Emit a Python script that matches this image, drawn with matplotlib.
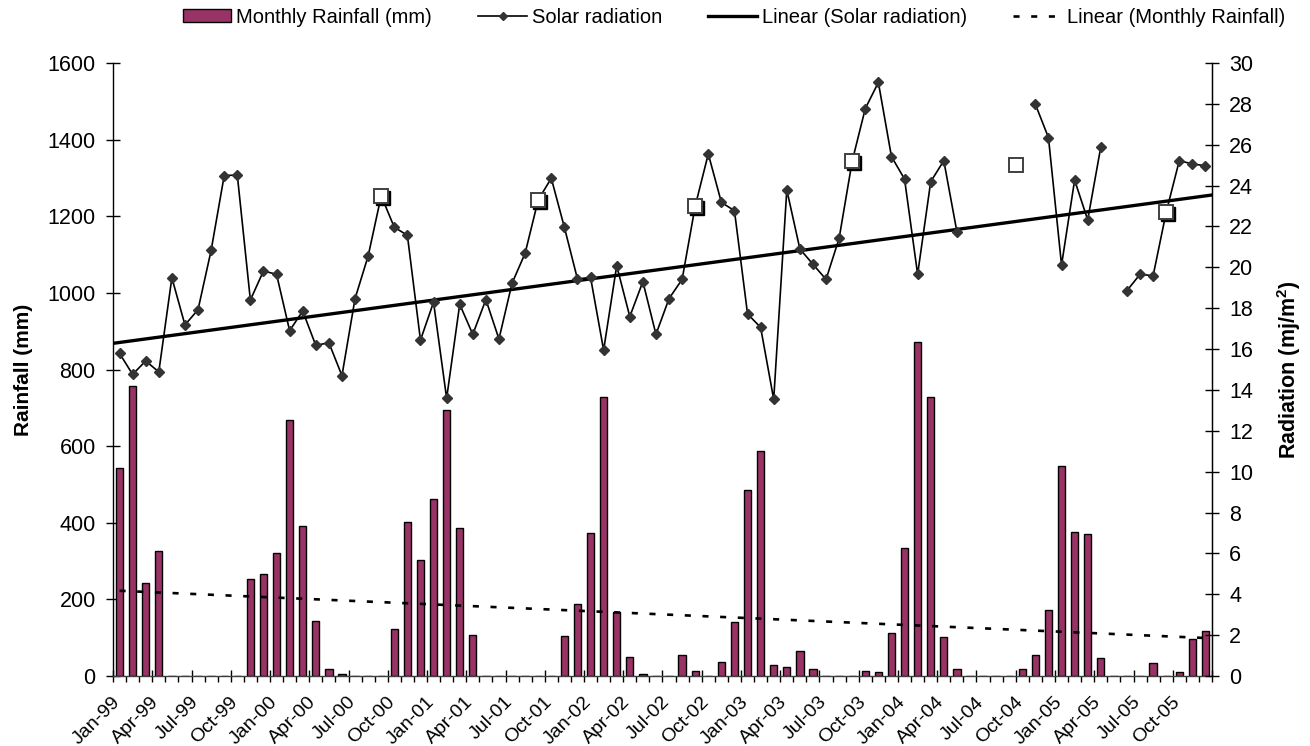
import numpy as np
import matplotlib
matplotlib.use("Agg")
import matplotlib.pyplot as plt
from matplotlib.lines import Line2D
from matplotlib.patches import Patch
import matplotlib.transforms as mtransforms

plt.rcParams['font.family'] = ['Liberation Sans', 'DejaVu Sans']
plt.rcParams['mathtext.fontset'] = 'custom'
plt.rcParams['mathtext.rm'] = 'Liberation Sans'
plt.rcParams['mathtext.bf'] = 'Liberation Sans:bold'

# Monthly series, Jan-1999 .. Dec-2005 (84 months)
rainfall_mm = [
    543, 758, 243, 327, 0, 0, 0, 0, 0, 0, 252, 265,
    320, 668, 391, 144, 17, 4, 0, 0, 0, 122, 402, 302,
    463, 693, 387, 108, 0, 0, 0, 0, 0, 0, 104, 187,
    374, 729, 168, 50, 4, 0, 0, 54, 14, 0, 36, 140,
    485, 586, 29, 24, 64, 17, 0, 0, 0, 14, 10, 111,
    335, 873, 729, 101, 17, 0, 0, 0, 0, 17, 54, 172,
    549, 377, 371, 46, 0, 0, 0, 33, 0, 10, 97, 118,
]

nan = np.nan
solar_radiation = [
    15.79, 14.76, 15.42, 14.88, 19.49, 17.18, 17.93, 20.83, 24.49, 24.52, 18.40, 19.82,
    19.66, 16.90, 17.86, 16.18, 16.31, 14.70, 18.47, 20.55, 23.50, 21.96, 21.57, 16.44,
    18.29, 13.59, 18.19, 16.72, 18.42, 16.49, 19.22, 20.69, 23.30, 24.36, 21.96, 19.43,
    19.51, 15.95, 20.08, 17.59, 19.30, 16.72, 18.47, 19.41, 23.00, 25.55, 23.18, 22.77,
    17.72, 17.06, 13.54, 23.79, 20.90, 20.15, 19.41, 21.42, 25.20, 27.77, 29.05, 25.42,
    24.32, 19.66, 24.19, 25.22, 21.75, nan, nan, nan, nan, nan, 27.98, 26.35,
    20.11, 24.27, 22.32, 25.89, nan, 18.86, 19.66, 19.59, 22.70, 25.22, 25.06, 24.97,
]

# Linear trend of solar radiation, value at the first and last month edge
solar_trend_ends = [16.28, 23.54]

# Highlighted September readings
sept_month = [20, 32, 44, 56, 68.5, 80]
sept_radiation = [23.5, 23.3, 23.0, 25.2, 25.0, 22.7]
sept_shadow = [True, True, True, True, False, True]

tick_labels = [
    "Jan-99", "Apr-99", "Jul-99", "Oct-99",
    "Jan-00", "Apr-00", "Jul-00", "Oct-00",
    "Jan-01", "Apr-01", "Jul-01", "Oct-01",
    "Jan-02", "Apr-02", "Jul-02", "Oct-02",
    "Jan-03", "Apr-03", "Jul-03", "Oct-03",
    "Jan-04", "Apr-04", "Jul-04", "Oct-04",
    "Jan-05", "Apr-05", "Jul-05", "Oct-05",
]

rain = np.array(rainfall_mm, dtype=float)
solar = np.array(solar_radiation, dtype=float)
months = np.arange(len(rain))

fig = plt.figure(figsize=(13.1, 7.46), dpi=100)
ax = fig.add_axes([113 / 1310, 70 / 746, 1099 / 1310, 613 / 746])

bar_color = '#993366'
ax.bar(months, rain, width=0.56, color=bar_color, edgecolor='black',
       linewidth=1.0, zorder=2)

# linear trend of rainfall
rc = np.polyfit(months, rain, 1)
ax.plot(months, np.polyval(rc, months), color='black', lw=1.9,
        linestyle=(0, (2.3, 4.4)), zorder=3)

ax.set_xlim(-0.5, len(rain) - 0.5)
ax.set_ylim(0, 1600)
ax.set_yticks(np.arange(0, 1601, 200))
ax.tick_params(axis='y', direction='inout', length=10, width=1.0,
               labelsize=15.5, pad=7.5)

# category ticks
ax.set_xticks(np.arange(0, len(rain), 3))
ax.set_xticklabels(tick_labels, rotation=45, ha='right', va='center',
                   rotation_mode='anchor', fontsize=14)
ax.tick_params(axis='x', which='major', length=0, pad=17)
shift = mtransforms.ScaledTranslation(-2 / 100, 0, fig.dpi_scale_trans)
for lab in ax.get_xticklabels():
    lab.set_transform(lab.get_transform() + shift)
minor_pos = [m - 0.5 for m in range(len(rain) + 1) if m % 3 != 0]
ax.set_xticks(minor_pos, minor=True)
ax.tick_params(axis='x', which='minor', direction='out', length=4, width=1.0)
sec = ax.secondary_xaxis('bottom')
sec.set_xticks(np.arange(0, len(rain) + 1, 3) - 0.5)
sec.tick_params(axis='x', direction='inout', length=9, width=1.0,
                labelbottom=False)
sec.spines['bottom'].set_visible(False)

ax.spines['top'].set_visible(False)
ax.spines['left'].set_linewidth(1.0)
ax.spines['bottom'].set_linewidth(1.0)
ax.spines['bottom'].set_color('#404040')

ax.set_ylabel('Rainfall (mm)', fontsize=15, fontweight='bold')
ax.yaxis.set_label_coords(-0.0728, 0.5)

# radiation on the secondary axis
ax2 = ax.twinx()
ax2.set_ylim(0, 30)
ax2.set_yticks(np.arange(0, 31, 2))
ax2.tick_params(axis='y', direction='inout', length=10, width=1.0,
                labelsize=15.5, pad=7.5)
ax2.spines['top'].set_visible(False)
ax2.spines['left'].set_visible(False)
ax2.spines['bottom'].set_visible(False)
ax2.spines['right'].set_linewidth(1.0)

xr = [-0.5, len(solar) - 0.5]
ax2.plot(xr, solar_trend_ends, color='black', lw=2.4, zorder=3)

ax2.plot(months, solar, color='black', lw=1.2, marker='D', markersize=5.4,
         markerfacecolor='#333333', markeredgecolor='#333333', zorder=4)

shadow = mtransforms.offset_copy(ax2.transData, fig=fig, x=2.2, y=-2.2,
                                 units='dots')
for xm, yv, sh in zip(sept_month, sept_radiation, sept_shadow):
    if sh:
        ax2.plot([xm], [yv], marker='s', markersize=10, color='black',
                 markeredgecolor='black', transform=shadow, zorder=5)
    ax2.plot([xm], [yv], marker='s', markersize=10, markerfacecolor='white',
             markeredgecolor='#404040', markeredgewidth=1.4, zorder=6)

ax2.set_ylabel(r'Radiation (mj/m$\mathbf{^2}$)', fontsize=15.5,
               fontweight='bold')
ax2.yaxis.set_label_coords(1.0573, 0.5)

handles = [
    Patch(facecolor=bar_color, edgecolor='black', linewidth=1.0),
    Line2D([], [], color='black', lw=1.2, marker='D', markersize=4.5,
           markerfacecolor='#333333', markeredgecolor='#333333'),
    Line2D([], [], color='black', lw=2.4),
    Line2D([], [], color='black', lw=1.9, linestyle=(0, (2.3, 4.4))),
]
labels = ['Monthly Rainfall (mm)', 'Solar radiation',
          'Linear (Solar radiation)', 'Linear (Monthly Rainfall)']
fig.legend(handles, labels, loc='center left',
           bbox_to_anchor=(183 / 1310, 0.977), borderpad=0, borderaxespad=0,
           ncol=4, frameon=False, fontsize=14.5, handlelength=2.4,
           handleheight=0.6, handletextpad=0.25, columnspacing=2.3)

fig.savefig('out.png', dpi=100)
